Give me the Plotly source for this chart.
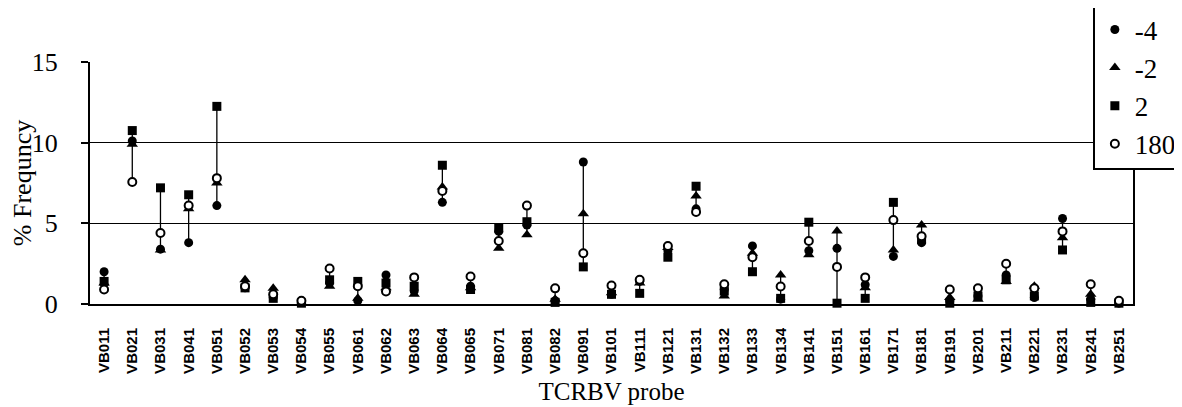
import plotly.graph_objects as go

categories = ["VB011", "VB021", "VB031", "VB041", "VB051", "VB052", "VB053", "VB054", "VB055",
              "VB061", "VB062", "VB063", "VB064", "VB065", "VB071", "VB081", "VB082", "VB091",
              "VB101", "VB111", "VB121", "VB131", "VB132", "VB133", "VB134", "VB141", "VB151",
              "VB161", "VB171", "VB181", "VB191", "VB201", "VB211", "VB221", "VB231", "VB241", "VB251"]

day_m4 = [2.0, 10.1, 3.4, 3.8, 6.1, 1.0, 0.4, 0.1, 1.3,
          0.2, 1.8, 0.8, 6.3, 1.1, 4.5, 4.9, 0.2, 8.8,
          0.6, 1.4, 3.3, 5.9, 0.9, 3.6, 0.3, 3.3, 3.45,
          1.2, 2.95, 3.8, 0.2, 0.5, 1.8, 0.4, 5.3, 0.3, 0.05]
day_m2 = [1.3, 9.9, 3.35, 5.9, 7.5, 1.5, 0.97, 0.1, 1.1,
          0.35, 1.0, 0.6, 7.25, 1.0, 3.45, 4.3, 0.3, 5.6,
          0.7, 1.3, 3.5, 6.7, 0.5, 3.15, 1.8, 3.05, 4.53,
          1.0, 3.35, 4.9, 0.4, 0.3, 1.4, 1.1, 4.1, 0.6, 0.05]
day_2 = [1.4, 10.75, 7.2, 6.77, 12.25, 1.0, 0.35, 0.05, 1.5,
         1.4, 1.3, 1.1, 8.6, 0.9, 4.7, 5.1, 0.1, 2.3,
         0.6, 0.66, 2.9, 7.3, 0.8, 2.0, 0.35, 5.07, 0.05,
         0.35, 6.3, 4.0, 0.05, 0.5, 1.5, 0.5, 3.35, 0.1, 0.05]
day_180 = [0.9, 7.56, 4.4, 6.1, 7.8, 1.1, 0.6, 0.2, 2.2,
           1.1, 0.77, 1.65, 7.0, 1.7, 3.9, 6.1, 0.97, 3.15,
           1.14, 1.5, 3.6, 5.7, 1.22, 2.9, 1.08, 3.9, 2.3,
           1.65, 5.2, 4.2, 0.9, 0.97, 2.5, 0.97, 4.5, 1.22, 0.2]

series = [("-4", day_m4, "filled-circle"),
          ("-2", day_m2, "triangle"),
          ("2", day_2, "square"),
          ("180", day_180, "open-circle")]

SERIF = "Liberation Serif, Times New Roman, serif"

fig = go.Figure()

# high-low lines
lx, ly = [], []
for i, c in enumerate(categories):
    vals = [day_m4[i], day_m2[i], day_2[i], day_180[i]]
    lx += [c, c, None]
    ly += [min(vals), max(vals), None]
fig.add_trace(go.Scatter(x=lx, y=ly, mode="lines", line=dict(color="black", width=1.3),
                         showlegend=False, hoverinfo="skip", cliponaxis=False))

for name, vals, kind in series:
    if kind == "open-circle":
        marker = dict(symbol="circle", size=8, color="white", line=dict(color="black", width=2))
    elif kind == "triangle":
        marker = dict(symbol="triangle-up", size=10, color="black", line=dict(color="black", width=0))
    elif kind == "square":
        marker = dict(symbol="square", size=9, color="black", line=dict(color="black", width=0))
    else:
        marker = dict(symbol="circle", size=9, color="black", line=dict(color="black", width=0))
    fig.add_trace(go.Scatter(x=categories, y=vals, mode="markers", name=name, marker=marker,
                             cliponaxis=False))

# the page body adds an 8px margin, so the figure is sized to fill the rest of the window
fig.update_layout(
    width=1174, height=399,
    margin=dict(l=82, r=49, t=54, b=103, autoexpand=False),
    paper_bgcolor="white", plot_bgcolor="white",
    font=dict(family=SERIF, color="black"),
    showlegend=True,
    legend=dict(x=0.962, y=1.24, xanchor="left", yanchor="top",
                bgcolor="white", bordercolor="black", borderwidth=1.5,
                font=dict(family=SERIF, size=27, color="black"),
                tracegroupgap=0, itemsizing="trace"),
    xaxis=dict(type="category", categoryorder="array", categoryarray=categories,
               range=[-0.5, len(categories) - 0.5],
               tickangle=-90, tickfont=dict(family="Liberation Sans", size=15, color="black", weight="bold"),
               showgrid=False, showline=True, linecolor="black", linewidth=2,
               ticks="", ticklabelstandoff=16,
               title=dict(text="TCRBV probe", font=dict(family=SERIF, size=25, color="black"),
                          standoff=10),
               zeroline=False),
    yaxis=dict(range=[0, 15], tickvals=[0, 5, 10, 15], ticktext=["0", "5", "10", "15"],
               tickfont=dict(family=SERIF, size=26, color="black"),
               showgrid=True, gridcolor="black", gridwidth=1,
               showline=True, linecolor="black", linewidth=2, mirror=True,
               ticks="outside", ticklen=7, tickwidth=2, tickcolor="black",
               ticklabelstandoff=18,
               title=dict(text="% Frequncy", font=dict(family=SERIF, size=26, color="black"),
                          standoff=8),
               zeroline=False),
)

fig.write_html("out.html")
